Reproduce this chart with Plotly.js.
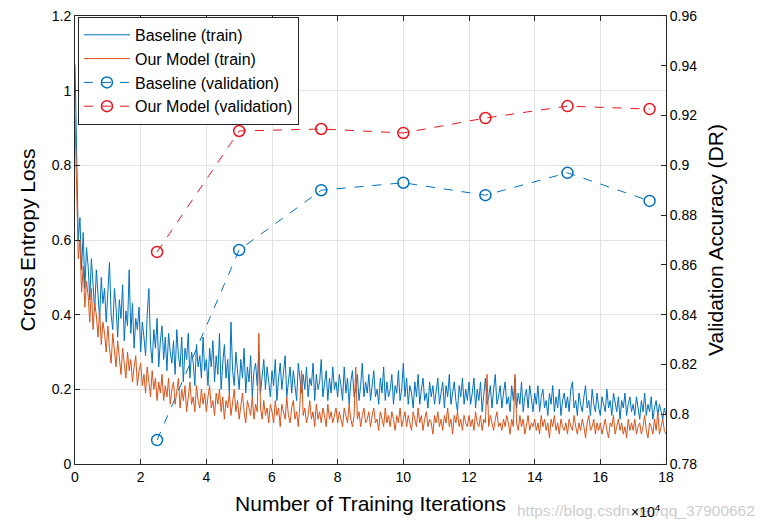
<!DOCTYPE html>
<html>
<head>
<meta charset="utf-8">
<script src="https://cdn.plot.ly/plotly-3.0.1.min.js"></script>
<style>html,body{margin:0;padding:0;background:#fff;}#chart{width:768px;height:520px;}</style>
</head>
<body>
<div id="chart"></div>
<script>
// Training iterations are sampled every 0.05 x 10^4 iterations
const trainStep = 0.05;

const baselineTrain = [
1.07,0.78,0.60,0.66,0.52,0.62,0.47,0.58,0.53,0.44,0.55,0.48,0.41,0.52,0.46,0.39,0.50,0.43,0.47,0.38,
0.46,0.54,0.40,0.36,0.47,0.42,0.34,0.44,0.39,0.48,0.33,0.41,0.37,0.52,0.35,0.43,0.31,0.39,0.36,0.42,
0.30,0.38,0.34,0.29,0.40,0.47,0.32,0.27,0.36,0.31,0.39,0.26,0.33,0.37,0.28,0.34,0.25,0.35,0.30,0.27,
0.33,0.24,0.36,0.29,0.26,0.34,0.22,0.31,0.28,0.35,0.23,0.30,0.27,0.21,0.32,0.26,0.29,0.23,0.34,0.25,
0.28,0.21,0.31,0.26,0.33,0.22,0.29,0.24,0.35,0.20,0.27,0.32,0.23,0.28,0.19,0.38,0.25,0.21,0.30,0.24,
0.20,0.28,0.23,0.31,0.19,0.26,0.22,0.29,0.18,0.25,0.27,0.21,0.30,0.19,0.24,0.28,0.20,0.26,0.22,0.18,
0.25,0.21,0.28,0.17,0.23,0.27,0.20,0.24,0.29,0.18,0.22,0.26,0.19,0.25,0.21,0.17,0.27,0.23,0.19,0.24,
0.20,0.26,0.18,0.23,0.21,0.27,0.17,0.24,0.20,0.22,0.28,0.18,0.21,0.25,0.17,0.23,0.19,0.26,0.20,0.22,
0.18,0.24,0.21,0.17,0.26,0.19,0.23,0.16,0.22,0.25,0.18,0.20,0.24,0.17,0.21,0.27,0.18,0.22,0.19,0.24,
0.17,0.21,0.25,0.18,0.20,0.16,0.23,0.19,0.26,0.17,0.22,0.18,0.20,0.24,0.16,0.21,0.19,0.25,0.17,0.20,
0.27,0.18,0.23,0.16,0.21,0.19,0.15,0.22,0.18,0.24,0.16,0.20,0.23,0.17,0.19,0.15,0.22,0.18,0.21,0.16,
0.20,0.23,0.16,0.19,0.22,0.15,0.21,0.18,0.24,0.16,0.19,0.22,0.17,0.14,0.21,0.18,0.23,0.16,0.20,0.17,
0.22,0.16,0.19,0.23,0.15,0.20,0.17,0.22,0.14,0.19,0.23,0.16,0.18,0.21,0.15,0.20,0.24,0.16,0.18,0.21,
0.15,0.19,0.22,0.16,0.18,0.14,0.21,0.17,0.23,0.15,0.19,0.16,0.22,0.14,0.18,0.20,0.15,0.21,0.17,0.14,
0.19,0.16,0.21,0.14,0.18,0.20,0.15,0.17,0.13,0.19,0.16,0.21,0.14,0.18,0.15,0.20,0.13,0.17,0.19,0.15,
0.18,0.14,0.20,0.22,0.15,0.17,0.13,0.19,0.16,0.14,0.18,0.21,0.15,0.17,0.13,0.20,0.16,0.14,0.19,0.15,
0.13,0.18,0.16,0.14,0.20,0.15,0.17,0.13,0.19,0.16,0.14,0.18,0.12,0.17,0.15,0.19,0.13,0.16,0.18,0.14,
0.16,0.13,0.18,0.15,0.12,0.17,0.14,0.19,0.13,0.16,0.14,0.18,0.12,0.15,0.17,0.13,0.16,0.14,0.12,0.15,
0.13
];

const ourModelTrain = [
0.93,0.70,0.55,0.60,0.46,0.53,0.42,0.49,0.45,0.38,0.47,0.36,0.43,0.40,0.34,0.41,0.32,0.38,0.35,0.30,
0.37,0.31,0.27,0.35,0.30,0.26,0.33,0.28,0.24,0.31,0.27,0.23,0.30,0.25,0.28,0.22,0.26,0.29,0.21,0.25,
0.27,0.21,0.24,0.19,0.26,0.22,0.18,0.25,0.20,0.23,0.17,0.22,0.19,0.24,0.17,0.21,0.18,0.23,0.16,0.20,
0.22,0.16,0.19,0.23,0.15,0.20,0.17,0.21,0.14,0.19,0.22,0.16,0.18,0.14,0.21,0.17,0.15,0.20,0.16,0.19,
0.14,0.18,0.21,0.15,0.17,0.13,0.19,0.16,0.20,0.14,0.18,0.12,0.17,0.15,0.19,0.13,0.16,0.20,0.14,0.17,
0.12,0.16,0.19,0.14,0.11,0.17,0.15,0.13,0.18,0.12,0.16,0.14,0.35,0.15,0.12,0.17,0.13,0.15,0.11,0.16,
0.14,0.11,0.17,0.13,0.15,0.10,0.16,0.14,0.12,0.18,0.13,0.11,0.15,0.17,0.12,0.14,0.10,0.16,0.25,0.13,
0.15,0.11,0.13,0.17,0.12,0.14,0.10,0.16,0.12,0.14,0.11,0.15,0.13,0.10,0.16,0.12,0.14,0.11,0.13,0.15,
0.11,0.14,0.12,0.10,0.15,0.13,0.11,0.16,0.12,0.10,0.13,0.26,0.12,0.14,0.10,0.13,0.15,0.11,0.12,0.14,
0.10,0.13,0.15,0.11,0.12,0.09,0.14,0.12,0.10,0.15,0.11,0.13,0.10,0.14,0.12,0.09,0.13,0.11,0.15,0.10,
0.12,0.14,0.10,0.13,0.11,0.09,0.14,0.12,0.10,0.15,0.11,0.13,0.09,0.12,0.14,0.10,0.12,0.11,0.08,0.13,
0.11,0.14,0.10,0.12,0.09,0.13,0.11,0.15,0.10,0.12,0.08,0.13,0.11,0.14,0.10,0.12,0.09,0.13,0.11,0.10,
0.13,0.10,0.12,0.09,0.14,0.11,0.10,0.13,0.09,0.12,0.11,0.24,0.10,0.13,0.11,0.09,0.12,0.14,0.10,0.11,
0.09,0.12,0.10,0.13,0.11,0.08,0.12,0.10,0.24,0.11,0.09,0.13,0.10,0.12,0.08,0.11,0.13,0.09,0.11,0.10,
0.12,0.09,0.11,0.08,0.13,0.10,0.12,0.09,0.11,0.07,0.12,0.10,0.13,0.09,0.11,0.08,0.12,0.10,0.09,0.11,
0.08,0.12,0.10,0.09,0.13,0.10,0.08,0.11,0.09,0.12,0.10,0.07,0.11,0.13,0.09,0.10,0.12,0.08,0.11,0.09,
0.11,0.08,0.10,0.12,0.09,0.07,0.11,0.10,0.13,0.08,0.10,0.12,0.09,0.11,0.08,0.10,0.07,0.12,0.09,0.11,
0.09,0.12,0.08,0.10,0.11,0.08,0.10,0.13,0.09,0.07,0.11,0.10,0.08,0.12,0.09,0.14,0.08,0.10,0.12,0.09,
0.08
];

const valIterations = [2.5, 5, 7.5, 10, 12.5, 15, 17.5];
const baselineVal = [0.7896, 0.8660, 0.8900, 0.8930, 0.8880, 0.8970, 0.8857];
const ourModelVal = [0.8652, 0.9138, 0.9146, 0.9130, 0.9190, 0.9238, 0.9226];

const xTicks = [0, 2, 4, 6, 8, 10, 12, 14, 16, 18];
const yTicks = [0, 0.2, 0.4, 0.6, 0.8, 1, 1.2];
const yTickText = ["0","0.2","0.4","0.6","0.8","1","1.2"];
const y2Ticks = [0.78, 0.80, 0.82, 0.84, 0.86, 0.88, 0.90, 0.92, 0.94, 0.96];
const y2TickText = ["0.78","0.8","0.82","0.84","0.86","0.88","0.9","0.92","0.94","0.96"];

const trainX = baselineTrain.map((_, i) => i * trainStep);

const FONT = "Liberation Sans, Arial, Helvetica, sans-serif";
const AX = "#262626";

const traces = [
  {x: trainX, y: baselineTrain, type: "scatter", mode: "lines", name: "Baseline (train)",
   line: {color: "#0072BD", width: 1}},
  {x: trainX, y: ourModelTrain, type: "scatter", mode: "lines", name: "Our Model (train)",
   line: {color: "#D95319", width: 1}},
  {x: valIterations, y: baselineVal, type: "scatter", mode: "lines+markers", name: "Baseline (validation)",
   yaxis: "y2", line: {color: "#0072BD", width: 1, dash: "dash"},
   marker: {symbol: "circle-open", size: 11, color: "#0072BD", line: {width: 1.5, color: "#0072BD"}}},
  {x: valIterations, y: ourModelVal, type: "scatter", mode: "lines+markers", name: "Our Model (validation)",
   yaxis: "y2", line: {color: "#E8141E", width: 1, dash: "dash"},
   marker: {symbol: "circle-open", size: 11, color: "#E8141E", line: {width: 1.5, color: "#E8141E"}}}
];

const layout = {
  width: 768, height: 520,
  margin: {l: 75, r: 102, t: 16, b: 56},
  paper_bgcolor: "#fff", plot_bgcolor: "#fff",
  font: {family: FONT, size: 14, color: "#000"},
  showlegend: true,
  legend: {x: 0.005, y: 0.998, xanchor: "left", yanchor: "top", bgcolor: "#fff",
    bordercolor: AX, borderwidth: 1, font: {size: 16, color: "#000", family: FONT},
    tracegroupgap: 0, itemwidth: 46},
  xaxis: {range: [0, 18], tickvals: xTicks, ticktext: xTicks.map(String),
    ticks: "inside", ticklen: 5, tickcolor: AX, showline: true, linecolor: AX, linewidth: 1,
    mirror: "ticks", showgrid: true, gridcolor: "#e3e3e3", zeroline: false,
    tickfont: {size: 14, color: "#000"},
    title: {text: "Number of Training Iterations", font: {size: 21, color: "#000"}, standoff: 12}},
  yaxis: {range: [0, 1.2], tickvals: yTicks, ticktext: yTickText,
    ticks: "inside", ticklen: 5, tickcolor: AX, showline: true, linecolor: AX, linewidth: 1,
    showgrid: true, gridcolor: "#e3e3e3", zeroline: false, tickfont: {size: 14, color: "#000"},
    title: {text: "Cross Entropy Loss", font: {size: 21, color: "#000"}, standoff: 10}},
  yaxis2: {range: [0.78, 0.96], overlaying: "y", side: "right", tickvals: y2Ticks, ticktext: y2TickText,
    ticks: "inside", ticklen: 5, tickcolor: AX, showline: true, linecolor: AX, linewidth: 1,
    showgrid: false, zeroline: false, tickfont: {size: 14, color: "#000"},
    title: {text: "Validation Accuracy (DR)", font: {size: 21, color: "#000"}, standoff: 12}},
  annotations: [
    {xref: "paper", yref: "paper", x: 1.154, y: -0.103, xanchor: "right", yanchor: "middle",
     text: "https://blog.csdn.net/qq_37900662", showarrow: false,
     font: {size: 15.5, color: "rgba(195,195,195,0.85)"}},
    {xref: "paper", yref: "paper", x: 0.938, y: -0.105, xanchor: "left", yanchor: "middle",
     text: "×10<sup>4</sup>", showarrow: false, font: {size: 14, color: "#000"}}
  ]
};

Plotly.newPlot("chart", traces, layout, {displayModeBar: false, staticPlot: true});
</script>
</body>
</html>
